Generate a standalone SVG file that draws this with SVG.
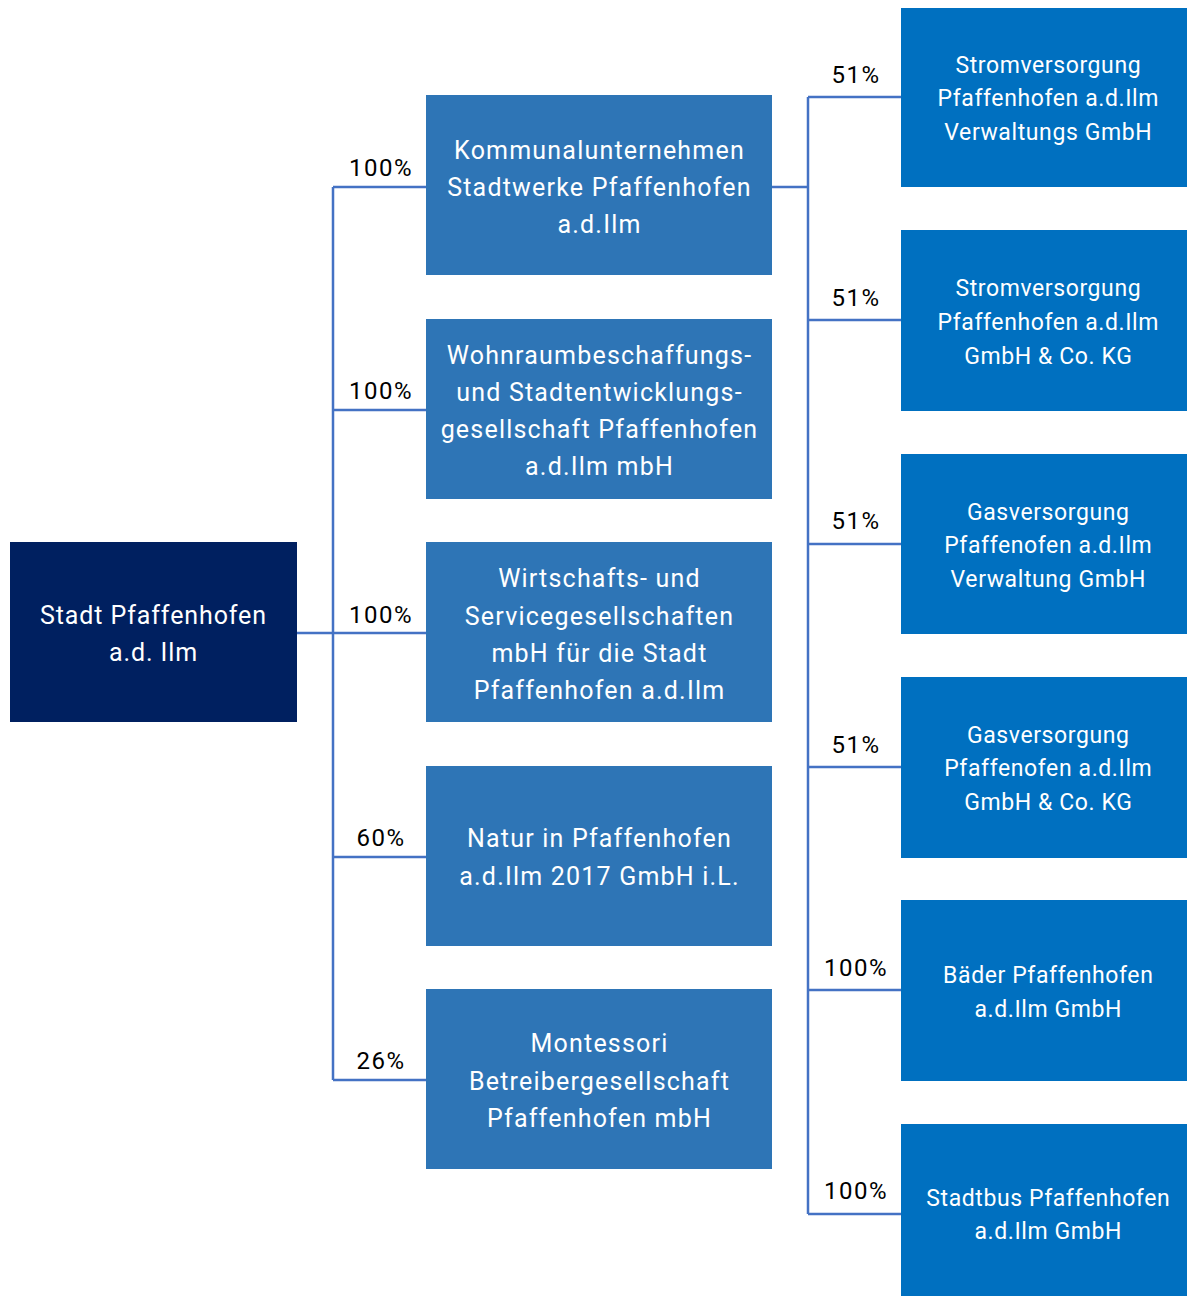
<svg xmlns="http://www.w3.org/2000/svg" width="1187" height="1296" viewBox="0 0 1187 1296">
<style>
.root{fill:#002060}
.mid{fill:#2e75b6}
.right{fill:#0070c0}
.t{font-family:Roboto,"Liberation Sans",sans-serif;fill:#ffffff;text-anchor:middle;dominant-baseline:central;font-size:25px;letter-spacing:1.2px}
.t0{font-family:Roboto,"Liberation Sans",sans-serif;fill:#ffffff;text-anchor:middle;dominant-baseline:central;font-size:25px;letter-spacing:0.9px}
.tr{font-family:Roboto,"Liberation Sans",sans-serif;fill:#ffffff;text-anchor:middle;dominant-baseline:central;font-size:23px;letter-spacing:0.6px}
.lbl{font-family:Roboto,"Liberation Sans",sans-serif;fill:#000000;text-anchor:middle;dominant-baseline:central;font-size:24px;letter-spacing:1.5px}
.c{fill:none;stroke:#4472c4;stroke-width:2.5}
</style>
<rect width="1187" height="1296" fill="#ffffff"/>
<g id="connectors">
<path class="c" d="M297,633 H426 M333,187 V1080 M333,187 H426 M333,410 H426 M333,857 H426 M333,1080 H426"/>
<path class="c" d="M772,187 H808 M808,97 V1214 M808,97 H901 M808,320 H901 M808,544 H901 M808,767 H901 M808,990 H901 M808,1214 H901"/>
<text class="lbl" x="381" y="168">100%</text>
<text class="lbl" x="381" y="391">100%</text>
<text class="lbl" x="381" y="615">100%</text>
<text class="lbl" x="381" y="838">60%</text>
<text class="lbl" x="381" y="1061">26%</text>
<text class="lbl" x="856" y="75">51%</text>
<text class="lbl" x="856" y="298">51%</text>
<text class="lbl" x="856" y="521">51%</text>
<text class="lbl" x="856" y="745">51%</text>
<text class="lbl" x="856" y="968">100%</text>
<text class="lbl" x="856" y="1191">100%</text>
</g>
<g id="root">
<rect class="root" x="10" y="542" width="287" height="180"/>
<text class="t0" x="153.5" y="615">Stadt Pfaffenhofen</text>
<text class="t0" x="153.5" y="652">a.d. Ilm</text>
</g>
<g id="m1">
<rect class="mid" x="426" y="95" width="346" height="180"/>
<text class="t" x="599.5" y="150">Kommunalunternehmen</text>
<text class="t" x="599.5" y="187">Stadtwerke Pfaffenhofen</text>
<text class="t" x="599.5" y="224">a.d.Ilm</text>
</g>
<g id="m2">
<rect class="mid" x="426" y="319" width="346" height="180"/>
<text class="t" x="599.5" y="355">Wohnraumbeschaffungs-</text>
<text class="t" x="599.5" y="392">und Stadtentwicklungs-</text>
<text class="t" x="599.5" y="429">gesellschaft Pfaffenhofen</text>
<text class="t" x="599.5" y="466">a.d.Ilm mbH</text>
</g>
<g id="m3">
<rect class="mid" x="426" y="542" width="346" height="180"/>
<text class="t" x="599.5" y="578">Wirtschafts- und</text>
<text class="t" x="599.5" y="616">Servicegesellschaften</text>
<text class="t" x="599.5" y="653">mbH für die Stadt</text>
<text class="t" x="599.5" y="690">Pfaffenhofen a.d.Ilm</text>
</g>
<g id="m4">
<rect class="mid" x="426" y="766" width="346" height="180"/>
<text class="t" x="599.5" y="838">Natur in Pfaffenhofen</text>
<text class="t" x="599.5" y="876">a.d.Ilm 2017 GmbH i.L.</text>
</g>
<g id="m5">
<rect class="mid" x="426" y="989" width="346" height="180"/>
<text class="t" x="599.5" y="1043">Montessori</text>
<text class="t" x="599.5" y="1081">Betreibergesellschaft</text>
<text class="t" x="599.5" y="1118">Pfaffenhofen mbH</text>
</g>
<g id="r1">
<rect class="right" x="901" y="8" width="286" height="179"/>
<text class="tr" x="1048.3" y="65">Stromversorgung</text>
<text class="tr" x="1048.3" y="98">Pfaffenhofen a.d.Ilm</text>
<text class="tr" x="1048.3" y="132">Verwaltungs GmbH</text>
</g>
<g id="r2">
<rect class="right" x="901" y="230" width="286" height="181"/>
<text class="tr" x="1048.3" y="288">Stromversorgung</text>
<text class="tr" x="1048.3" y="322">Pfaffenhofen a.d.Ilm</text>
<text class="tr" x="1048.3" y="356">GmbH &amp; Co. KG</text>
</g>
<g id="r3">
<rect class="right" x="901" y="454" width="286" height="180"/>
<text class="tr" x="1048.3" y="512">Gasversorgung</text>
<text class="tr" x="1048.3" y="545">Pfaffenofen a.d.Ilm</text>
<text class="tr" x="1048.3" y="579">Verwaltung GmbH</text>
</g>
<g id="r4">
<rect class="right" x="901" y="677" width="286" height="181"/>
<text class="tr" x="1048.3" y="735">Gasversorgung</text>
<text class="tr" x="1048.3" y="768">Pfaffenofen a.d.Ilm</text>
<text class="tr" x="1048.3" y="802">GmbH &amp; Co. KG</text>
</g>
<g id="r5">
<rect class="right" x="901" y="900" width="286" height="181"/>
<text class="tr" x="1048.3" y="975">Bäder Pfaffenhofen</text>
<text class="tr" x="1048.3" y="1009">a.d.Ilm GmbH</text>
</g>
<g id="r6">
<rect class="right" x="901" y="1124" width="286" height="180"/>
<text class="tr" x="1048.3" y="1198">Stadtbus Pfaffenhofen</text>
<text class="tr" x="1048.3" y="1231">a.d.Ilm GmbH</text>
</g>
</svg>
